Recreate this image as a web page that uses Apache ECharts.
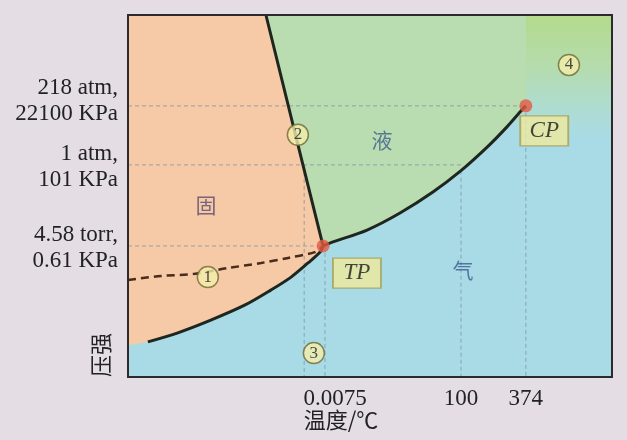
<!DOCTYPE html>
<html><head><meta charset="utf-8">
<script src="https://cdn.jsdelivr.net/npm/echarts@6/dist/echarts.min.js"></script>
<style>html,body{margin:0;padding:0;background:#e4dee4}#c{width:627px;height:440px}</style>
</head><body><div id="c"></div>
<script>
// schematic coordinates: x 0..100 (temperature), y 0..100 (pressure)
const xTicks = [36.4, 68.8, 82.2];
const xTickLabels = ['0.0075', '100', '374'];
const yTicks = [36.2, 58.6, 74.9];
const yTickLabels = ['4.58 torr,\n0.61 KPa', '1 atm,\n101 KPa', '218 atm,\n22100 KPa'];
const triplePoint = [40.3, 36.2];
const criticalPoint = [82.2, 74.9];
const meltingCurve = [[28.5, 100], [34.4, 68], [40.3, 36.2]];
const vaporCurve = [[40.3, 36.2], [41.7, 37.0], [49.4, 40.6], [56.2, 45.3], [63.0, 51.1], [68.8, 57.0], [74.2, 63.5], [78.3, 69.1], [81.4, 73.8], [82.2, 74.9]];
const sublimationCurve = [[4.1, 9.7], [10.3, 12.2], [17.1, 15.7], [24.2, 19.9], [29.5, 24.0], [33.7, 27.6], [37.2, 31.5], [39.7, 34.5], [40.3, 36.2]];
const supercooledCurve = [[0, 26.8], [6.8, 27.9], [13.8, 28.5], [20.7, 30.1], [27.5, 31.5], [33.1, 32.9], [38.6, 34.5], [40.3, 36.2]];
const numberMarks = [['1', 16.5, 27.6], ['2', 35.1, 66.9], ['3', 38.4, 6.6], ['4', 91.1, 86.2]];
const phaseNames = [['液', 52.5, 65.5, '#3f5c8c'], ['固', 16.1, 47.5, '#5b4a72'], ['气', 69.2, 29.6, '#3f5c8c']];
const pointTags = [['TP', 47.3, 28.7], ['CP', 86.0, 68.0]];
const guideH = [[[0, 74.9], [82.2, 74.9]], [[0, 58.6], [68.8, 58.6]], [[0, 36.2], [40.3, 36.2]]];
const guideV = [[[36.4, 58.6], [36.4, 0]], [[40.7, 36.2], [40.7, 0]], [[68.8, 57.0], [68.8, 0]], [[82.2, 74.9], [82.2, 0]]];

const chart = echarts.init(document.getElementById('c'));
const serif = 'Liberation Serif, Times New Roman, serif';

const solidPoly = [[0, 100]].concat(meltingCurve, sublimationCurve.slice().reverse(), [[0, 8.8]]);
const liquidPoly = meltingCurve.concat(vaporCurve.slice(1), [[82.2, 100]]);

const series = [
  {
    type: 'custom', z: 1, silent: true, data: [0],
    renderItem: function (params, api) {
      const c = p => api.coord(p);
      const tl = c([0, 100]), br = c([100, 0]);
      const sc0 = c([80, 100]), sc1 = c([100, 66]);
      return {
        type: 'group', children: [
          { type: 'rect', shape: { x: tl[0], y: tl[1], width: br[0] - tl[0], height: br[1] - tl[1] }, style: { fill: '#a9dbe6' } },
          { type: 'rect', shape: { x: sc0[0], y: sc0[1], width: sc1[0] - sc0[0], height: sc1[1] - sc0[1] },
            style: { fill: new echarts.graphic.LinearGradient(0, 0, 0, 1, [
              { offset: 0, color: '#b3da8c' }, { offset: 0.4, color: '#b5dcab' }, { offset: 0.75, color: '#aedcd0' }, { offset: 1, color: '#a9dbe6' }]) } },
          { type: 'polygon', shape: { points: liquidPoly.map(c) }, style: { fill: '#b9ddb1' } },
          { type: 'polygon', shape: { points: solidPoly.map(c) }, style: { fill: '#f6caa6' } }
        ]
      };
    }
  }
];

guideH.concat(guideV).forEach(seg => {
  series.push({ type: 'line', data: seg, symbol: 'none', silent: true, z: 2,
    lineStyle: { color: 'rgba(110,135,160,0.65)', width: 1, type: [4, 3] } });
});

series.push({ type: 'line', data: meltingCurve, symbol: 'none', z: 3, lineStyle: { color: '#1f261f', width: 3 } });
series.push({ type: 'line', data: vaporCurve, symbol: 'none', smooth: 0.3, z: 3, lineStyle: { color: '#1f261f', width: 3 } });
series.push({ type: 'line', data: sublimationCurve, symbol: 'none', smooth: 0.3, z: 3, lineStyle: { color: '#1f261f', width: 3 } });
series.push({ type: 'line', data: supercooledCurve, symbol: 'none', smooth: 0.3, z: 3, lineStyle: { color: '#4a2c1c', width: 2.5, type: [8, 5] } });

series.push({ type: 'scatter', data: [triplePoint, criticalPoint], symbolSize: 13, z: 4,
  itemStyle: { color: '#e25a44' } });

series.push({ type: 'scatter', z: 5, symbolSize: 21,
  data: numberMarks.map(m => ({ value: [m[1], m[2]], name: m[0] })),
  itemStyle: { color: '#f4eeaa', borderColor: '#6e6a34', borderWidth: 1.5 },
  label: { show: true, position: 'inside', formatter: p => p.name, color: '#222', fontFamily: serif, fontSize: 17 } });

series.push({ type: 'scatter', z: 5, symbol: 'rect', symbolSize: [48, 30],
  data: pointTags.map(m => ({ value: [m[1], m[2]], name: m[0] })),
  itemStyle: { color: '#efe99c', borderColor: '#a39f58', borderWidth: 1.5 },
  label: { show: true, position: 'inside', formatter: p => p.name, color: '#1a1a1a', fontFamily: serif, fontStyle: 'italic', fontSize: 23 } });

series.push({ type: 'scatter', z: 5, symbolSize: 1, itemStyle: { color: 'rgba(0,0,0,0)' },
  data: phaseNames.map(m => ({ value: [m[1], m[2]], name: m[0], label: { color: m[3] } })),
  label: { show: true, position: 'inside', formatter: p => p.name, fontFamily: 'Noto Sans CJK SC', fontSize: 21 } });

// frame
series.push({ type: 'custom', z: 10, silent: true, data: [0],
  renderItem: function (params, api) {
    const tl = api.coord([0, 100]), br = api.coord([100, 0]);
    return { type: 'rect', shape: { x: tl[0], y: tl[1], width: br[0] - tl[0], height: br[1] - tl[1] },
      style: { fill: 'none', stroke: '#2b2b2b', lineWidth: 2 } };
  } });

function lookupIndex(v, ticks) {
  for (let i = 0; i < ticks.length; i++) if (Math.abs(ticks[i] - v) < 1e-6) return i;
  return -1;
}

chart.setOption({
  backgroundColor: '#e4dee4',
  animation: false,
  grid: { left: 128, right: 15, top: 15, bottom: 63 },
  xAxis: { type: 'value', min: 0, max: 100, splitLine: { show: false }, axisLine: { show: false }, axisTick: { show: false },
    axisLabel: { customValues: xTicks, margin: 10, color: '#222', fontFamily: serif, fontSize: 23, hideOverlap: false,
      formatter: v => { const i = lookupIndex(v, xTicks); if (i < 0) return ''; const s = xTickLabels[i]; return i === 0 ? '{l|' + s + '}' : s; },
      rich: { l: { padding: [0, 0, 0, 62], fontFamily: serif, fontSize: 23, color: '#222' } } } },
  yAxis: { type: 'value', min: 0, max: 100, splitLine: { show: false }, axisLine: { show: false }, axisTick: { show: false },
    axisLabel: { customValues: yTicks, margin: 10, color: '#222', fontFamily: serif, fontSize: 23, lineHeight: 26, align: 'right', hideOverlap: false,
      formatter: v => {
        const i = lookupIndex(v, yTicks); if (i < 0) return '';
        const s = yTickLabels[i];
        return i === 2 ? s + '\n{up| }' : '{dn| }\n' + s;
      },
      rich: { up: { lineHeight: 10, fontSize: 1 }, dn: { lineHeight: 4, fontSize: 1 } } } },
  graphic: [
    { type: 'text', x: 101, y: 355, rotation: Math.PI / 2, style: { text: '压强', fontFamily: 'Noto Sans CJK SC', fontSize: 22, fill: '#222', align: 'center', verticalAlign: 'middle' } },
    { type: 'text', x: 341, y: 420, style: { text: '温度/℃', fontFamily: 'Noto Sans CJK SC', fontSize: 22, fill: '#222', align: 'center', verticalAlign: 'middle' } }
  ],
  series: series
});
</script></body></html>
